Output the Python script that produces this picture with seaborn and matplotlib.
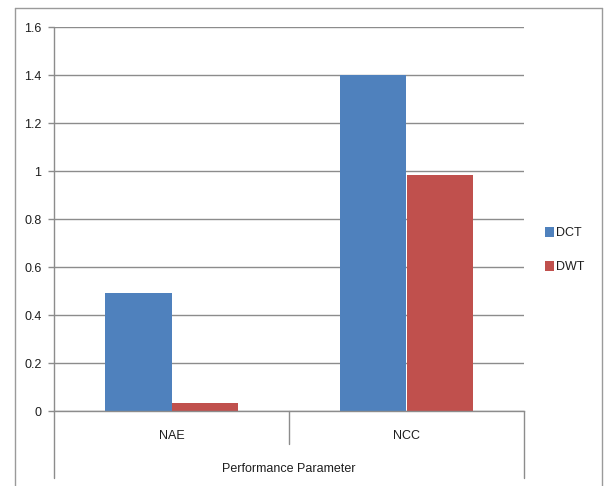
import matplotlib
matplotlib.use("Agg")
import matplotlib.pyplot as plt
from matplotlib.lines import Line2D
import pandas as pd
import seaborn as sns

# Chart data
categories = ["NAE", "NCC"]
methods = ["DCT", "DWT"]
dct_values = [0.49, 1.40]
dwt_values = [0.035, 0.985]
y_ticks = [0, 0.2, 0.4, 0.6, 0.8, 1.0, 1.2, 1.4, 1.6]
y_tick_labels = ["0", "0.2", "0.4", "0.6", "0.8", "1", "1.2", "1.4", "1.6"]
x_title = "Performance Parameter"

colors = {"DCT": "#4F81BD", "DWT": "#C0504D"}
grid_color = "#8C8C8C"
text_color = "#1E1E1E"
fs = 9

df = pd.DataFrame({
    "Parameter": categories * 2,
    "Method": [methods[0]] * len(categories) + [methods[1]] * len(categories),
    "Value": dct_values + dwt_values,
})

sns.set_theme(style="white")
plt.rcParams["font.family"] = ["Liberation Sans", "DejaVu Sans"]

W, H = 604, 486
fig = plt.figure(figsize=(W / 100, H / 100), dpi=100)
ax_left, ax_right, ax_top, ax_bottom = 54, 524, 27, 411
ax = fig.add_axes([ax_left / W, 1 - ax_bottom / H,
                   (ax_right - ax_left) / W, (ax_bottom - ax_top) / H])

sns.barplot(data=df, x="Parameter", y="Value", hue="Method",
            palette=colors, width=0.57, saturation=1, ax=ax,
            edgecolor="none", linewidth=0)

ax.set_xlim(-0.5, 1.5)
ax.set_ylim(0, 1.6)
ax.set_yticks(y_ticks)
ax.set_yticklabels(y_tick_labels, fontsize=fs, color=text_color)
ax.tick_params(axis="y", length=4, width=1, color=grid_color, pad=5, left=True)
ax.tick_params(axis="x", length=0, pad=14, labelsize=fs, labelcolor=text_color)
ax.set_xlabel(x_title, fontsize=fs, color=text_color, labelpad=15)
ax.set_ylabel("")

ax.yaxis.grid(True, color=grid_color, linewidth=1)
ax.set_axisbelow(True)
for side in ["top", "right", "left"]:
    ax.spines[side].set_visible(False)
ax.spines["bottom"].set_color(grid_color)
ax.spines["bottom"].set_linewidth(1)

# Category axis frame below the bars
axis_h = ax_bottom - ax_top
deep = -(478 - ax_bottom) / axis_h
mid = -(444 - ax_bottom) / axis_h
for x0, y0, y1 in [(0, deep, 1), (0.5, mid, 0), (1, deep, 0)]:
    ax.add_line(Line2D([x0, x0], [y0, y1], transform=ax.transAxes,
                       color=grid_color, linewidth=1, clip_on=False))

# Outer chart border
bx0, bx1, by0 = 14.5 / W, 601.5 / W, 1 - 8.5 / H
for xs, ys in [([bx0, bx0], [0, by0]), ([bx0, bx1], [by0, by0]),
               ([bx1, bx1], [by0, 0])]:
    fig.add_artist(Line2D(xs, ys, transform=fig.transFigure,
                          color="#9A9A9A", linewidth=1))

leg = ax.legend(loc="upper left", bbox_to_anchor=(545 / W, 1 - 227 / H),
                bbox_transform=fig.transFigure, frameon=False, fontsize=fs,
                handlelength=0.7, handleheight=0.8, handletextpad=0.2,
                labelspacing=1.75, borderpad=0, borderaxespad=0)
for t in leg.get_texts():
    t.set_color(text_color)

fig.savefig("out.png", dpi=100)
